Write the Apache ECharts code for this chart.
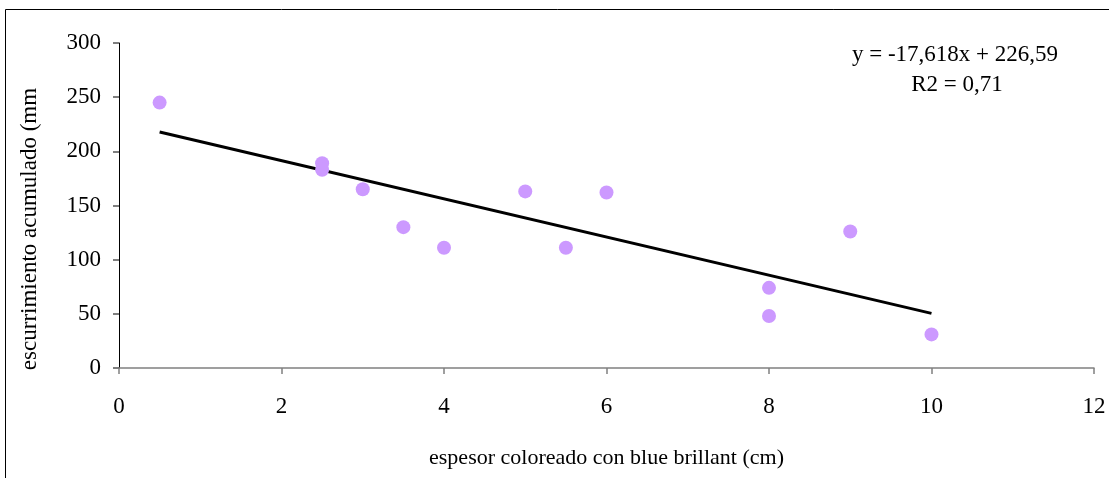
<!DOCTYPE html>
<html>
<head>
<meta charset="utf-8">
<script src="https://cdn.jsdelivr.net/npm/echarts@6/dist/echarts.min.js"></script>
<style>html,body{margin:0;padding:0;background:#fff}#c{width:1109px;height:478px}</style>
</head>
<body>
<div id="c"></div>
<script>
var xValues = [0.5, 2.5, 2.5, 3, 3.5, 4, 5, 5.5, 6, 8, 8, 9, 10];
var yValues = [245, 189, 183, 165, 130, 111, 163, 111, 162, 74, 48, 126, 31];
var trendX = [0.5, 10];
var trendY = [217.8, 50.4];
var xTicks = [0, 2, 4, 6, 8, 10, 12];
var yTicks = [0, 50, 100, 150, 200, 250, 300];
var xName = 'espesor coloreado con blue brillant (cm)';
var yName = 'escurrimiento acumulado (mm';
var eqText = 'y = -17,618x + 226,59';
var r2Text = 'R2 = 0,71';

var font = '"Liberation Serif", "Times New Roman", serif';
var chart = echarts.init(document.getElementById('c'), null, {renderer: 'canvas'});
var pts = xValues.map(function (x, i) { return [x, yValues[i]]; });
var line = trendX.map(function (x, i) { return [x, trendY[i]]; });
chart.setOption({
  animation: false,
  backgroundColor: '#fff',
  grid: {left: 119, right: 15, top: 43, bottom: 110, containLabel: false},
  xAxis: {
    type: 'value', min: xTicks[0], max: xTicks[xTicks.length - 1], interval: 2,
    name: xName, nameLocation: 'middle', nameGap: 79,
    nameTextStyle: {fontFamily: font, fontSize: 22, color: '#000'},
    axisLine: {show: true, onZero: false, lineStyle: {color: '#808080', width: 1.5}},
    axisTick: {show: true, length: 6, lineStyle: {color: '#808080', width: 1.5}},
    axisLabel: {fontFamily: font, fontSize: 23, color: '#000', margin: 27},
    splitLine: {show: false}
  },
  yAxis: {
    type: 'value', min: yTicks[0], max: yTicks[yTicks.length - 1], interval: 50,
    axisLine: {show: true, onZero: false, lineStyle: {color: '#000', width: 1}},
    axisTick: {show: true, length: 6, lineStyle: {color: '#555', width: 1.5}},
    axisLabel: {fontFamily: font, fontSize: 23, color: '#000', margin: 18},
    splitLine: {show: false}
  },
  series: [
    {type: 'line', data: line, symbol: 'none', lineStyle: {color: '#000', width: 3}, z: 2},
    {type: 'scatter', data: pts, symbolSize: 14, itemStyle: {color: '#cc99ff', opacity: 1}, z: 3}
  ],
  graphic: [
    {type: 'rect', shape: {x: 5.5, y: 9.5, width: 1120, height: 490}, style: {fill: 'none', stroke: '#000', lineWidth: 1}, silent: true},
    {type: 'text', x: 955, y: 55, style: {text: eqText, font: '23px ' + font, fill: '#000', textAlign: 'center', textVerticalAlign: 'middle'}},
    {type: 'text', x: 957, y: 85, style: {text: r2Text, font: '23px ' + font, fill: '#000', textAlign: 'center', textVerticalAlign: 'middle'}},
    {type: 'text', x: 30, y: 229, rotation: Math.PI / 2, style: {text: yName, font: '23px ' + font, fill: '#000', textAlign: 'center', textVerticalAlign: 'middle'}}
  ]
});
</script>
</body>
</html>
